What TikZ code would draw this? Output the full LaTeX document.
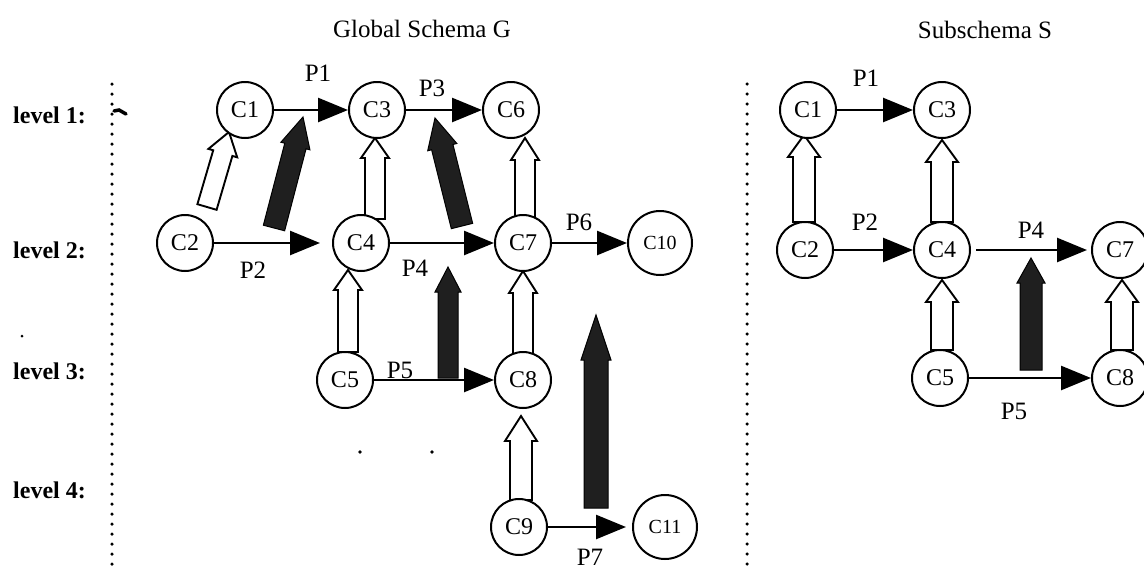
\documentclass[tikz,border=0pt]{standalone}
\usepackage{fontspec}
\setmainfont{Liberation Serif}
\usetikzlibrary{arrows.meta,calc}
\newcommand\blockarr[6]{%
  \coordinate (#2h) at ($(#3)!#6!(#2)$);
  \path[#1] ($(#2)!#4!90:(#3)$) -- ($(#2h)!#4!90:(#3)$) -- ($(#2h)!#5!90:(#3)$) -- (#3) -- ($(#2h)!#5!-90:(#3)$) -- ($(#2h)!#4!-90:(#3)$) -- ($(#2)!#4!-90:(#3)$) -- cycle;}
\begin{document}
\begin{tikzpicture}[x=1pt,y=-1pt,
  cls/.style={circle,draw,line width=2pt,minimum size=56pt,inner sep=0pt,fill=white,font=\fontsize{24}{24}\selectfont},
  bigcls/.style={cls,minimum size=64pt,font=\fontsize{20}{20}\selectfont},
  conn/.style={line width=2.6pt,-{Triangle[length=30pt,width=24pt]}},
  lbl/.style={font=\fontsize{25}{25}\selectfont,inner sep=0pt},
  lvl/.style={font=\bfseries\fontsize{24}{24}\selectfont,anchor=west,inner sep=0pt},
  ttl/.style={font=\fontsize{25}{25}\selectfont,inner sep=0pt},
  hollowarr/.style={draw,line width=1.9pt,fill=white,line join=miter},
  darkarr/.style={draw,line width=1pt,fill=black!88},
  dotline/.style={line width=3.5pt,line cap=round,dash pattern=on 0pt off 10pt}]
\useasboundingbox (0,0) rectangle (1144,573);
\clip (0,0) rectangle (1144,573);
% titles and level labels
\node[ttl] (tg) at (422,29) {Global Schema G};
\node[ttl] (ts) at (985,30) {Subschema S};
\node[lvl] (l1) at (13,115) {level 1:};
\node[lvl] (l2) at (13,250) {level 2:};
\node[lvl] (l3) at (13,371) {level 3:};
\node[lvl] (l4) at (13,490) {level 4:};
% dotted separators
\coordinate (da) at (112,84); \coordinate (db) at (112,568);
\coordinate (dc) at (747,84); \coordinate (dd) at (747,568);
\draw[dotline] (da) -- (db);
\draw[dotline] (dc) -- (dd);
% scan marks
\draw[line width=3.5pt,line cap=round] (114,111) -- (119,110) -- (126,114);
\fill (22,336) circle (1.5);
\fill (360,452) circle (1.8);
\fill (432,452) circle (1.8);
% block arrows, left
\coordinate (hA) at (207,207); \coordinate (hAt) at (229,132);
\coordinate (hB) at (375,219); \coordinate (hBt) at (375,138);
\coordinate (hC) at (525,219); \coordinate (hCt) at (525,138);
\coordinate (hD) at (348,352); \coordinate (hDt) at (348,270);
\coordinate (hE) at (523,355); \coordinate (hEt) at (523,271);
\coordinate (hF) at (521,500); \coordinate (hFt) at (521,416);
\blockarr{hollowarr}{hA}{hAt}{10pt}{15pt}{22pt}
\blockarr{hollowarr}{hB}{hBt}{10pt}{14pt}{20pt}
\blockarr{hollowarr}{hC}{hCt}{10pt}{14pt}{22pt}
\blockarr{hollowarr}{hD}{hDt}{10pt}{14pt}{20pt}
\blockarr{hollowarr}{hE}{hEt}{10pt}{14pt}{22pt}
\blockarr{hollowarr}{hF}{hFt}{11pt}{16pt}{25pt}
\coordinate (dA) at (274,228); \coordinate (dAt) at (303,117);
\coordinate (dB) at (462,226); \coordinate (dBt) at (435,118);
\coordinate (dC) at (448,378); \coordinate (dCt) at (448,267);
\coordinate (dD) at (596,508); \coordinate (dDt) at (596,315);
\blockarr{darkarr}{dA}{dAt}{11pt}{15pt}{30pt}
\blockarr{darkarr}{dB}{dBt}{11pt}{15pt}{30pt}
\blockarr{darkarr}{dC}{dCt}{10pt}{13pt}{25pt}
\blockarr{darkarr}{dD}{dDt}{12pt}{15pt}{45pt}
% block arrows, right
\coordinate (hG) at (804,222); \coordinate (hGt) at (804,135);
\coordinate (hH) at (942,222); \coordinate (hHt) at (942,140);
\coordinate (hI) at (942,350); \coordinate (hIt) at (942,280);
\coordinate (hJ) at (1122,350); \coordinate (hJt) at (1122,280);
\blockarr{hollowarr}{hG}{hGt}{11pt}{16pt}{22pt}
\blockarr{hollowarr}{hH}{hHt}{11pt}{16pt}{22pt}
\blockarr{hollowarr}{hI}{hIt}{11pt}{16pt}{22pt}
\blockarr{hollowarr}{hJ}{hJt}{11pt}{16pt}{22pt}
\coordinate (dE) at (1031,370); \coordinate (dEt) at (1031,258);
\blockarr{darkarr}{dE}{dEt}{11pt}{14pt}{25pt}
% nodes, global schema
\node[cls] (gc1) at (245,110) {C1};
\node[cls] (gc3) at (377,110) {C3};
\node[cls] (gc6) at (511,110) {C6};
\node[cls] (gc2) at (185,243) {C2};
\node[cls] (gc4) at (361,243) {C4};
\node[cls] (gc7) at (523,243) {C7};
\node[bigcls] (gc10) at (660,243) {C10};
\node[cls] (gc5) at (345,380) {C5};
\node[cls] (gc8) at (523,380) {C8};
\node[cls] (gc9) at (519,527) {C9};
\node[bigcls] (gc11) at (665,527) {C11};
% nodes, subschema
\node[cls] (sc1) at (808,110) {C1};
\node[cls] (sc3) at (942,110) {C3};
\node[cls] (sc2) at (805,250) {C2};
\node[cls] (sc4) at (942,250) {C4};
\node[cls] (sc7) at (1120,250) {C7};
\node[cls] (sc5) at (940,378) {C5};
\node[cls] (sc8) at (1120,378) {C8};
% connectors, global schema
\draw[conn] (gc1) -- (gc3);
\draw[conn] (gc3) -- (gc6);
\draw[conn,shorten >=12pt] (gc2) -- (gc4);
\draw[conn] (gc4) -- (gc7);
\draw[conn] (gc7) -- (gc10);
\draw[conn] (gc5) -- (gc8);
\draw[conn,shorten >=6pt] (gc9) -- (gc11);
\node[lbl] (p1) at (318,73) {P1};
\node[lbl] (p3) at (432,88) {P3};
\node[lbl] (p2) at (253,270) {P2};
\node[lbl] (p4) at (415,268) {P4};
\node[lbl] (p6) at (579,222) {P6};
\node[lbl] (p5) at (400,370) {P5};
\node[lbl] (p7) at (590,557) {P7};
% connectors, subschema
\draw[conn] (sc1) -- (sc3);
\draw[conn] (sc2) -- (sc4);
\draw[conn,shorten <=5pt,shorten >=4pt] (sc4) -- (sc7);
\draw[conn] (sc5) -- (sc8);
\node[lbl] (sp1) at (866,78) {P1};
\node[lbl] (sp2) at (865,222) {P2};
\node[lbl] (sp4) at (1031,230) {P4};
\node[lbl] (sp5) at (1014,411) {P5};
\end{tikzpicture}
\end{document}
